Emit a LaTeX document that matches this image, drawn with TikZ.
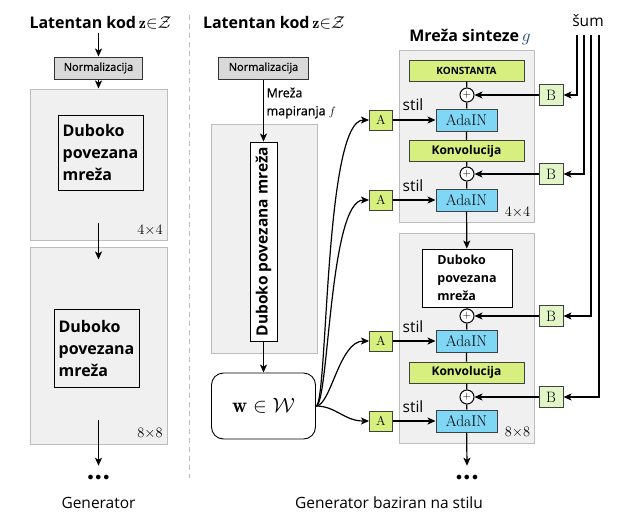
\documentclass[tikz,border=0pt]{standalone}
\usepackage{amsmath}
\usepackage{amssymb}
\usepackage{fontspec}
\newfontfamily\osans{Open Sans}
\newfontfamily\osansmid[FakeBold=0.8]{Open Sans}
\usetikzlibrary{arrows.meta}
\definecolor{panelfill}{HTML}{F0F0F0}
\definecolor{panelline}{HTML}{BDBDBD}
\definecolor{normfill}{HTML}{D9D9D9}
\definecolor{limefill}{HTML}{D6EF7F}
\definecolor{noisefill}{HTML}{E1F5C6}
\definecolor{adafill}{HTML}{7FD6F5}
\definecolor{gblue}{HTML}{1F3B73}
\tikzstyle{panel} = [rectangle, draw=panelline, fill=panelfill, line width=1pt, inner sep=0pt]
\tikzstyle{normbox} = [rectangle, draw=black!80, fill=normfill, line width=1pt, minimum width=88pt, minimum height=22pt, inner sep=0pt, font=\osansmid\fontsize{11}{13}\selectfont]
\tikzstyle{fcbox} = [rectangle, draw, line width=0.9pt, align=left, inner sep=0pt]
\tikzstyle{limebox} = [rectangle, draw=black!75, fill=limefill, line width=1pt, minimum width=115pt, minimum height=21pt, inner sep=0pt, font=\osans\bfseries\fontsize{12}{14}\selectfont]
\tikzstyle{adabox} = [rectangle, draw=black!75, fill=adafill, line width=1pt, minimum width=61pt, minimum height=22pt, inner sep=0pt, font=\fontsize{15.5}{17}\selectfont]
\tikzstyle{stylebox} = [rectangle, draw=black!75, fill=limefill, line width=1pt, minimum width=23pt, minimum height=20pt, inner sep=0pt, font=\fontsize{13}{15}\selectfont]
\tikzstyle{noisebox} = [rectangle, draw=black!75, fill=noisefill, line width=1pt, minimum width=24pt, minimum height=21pt, inner sep=0pt, font=\fontsize{15}{17}\selectfont]
\tikzstyle{addnode} = [circle, draw, fill=white, line width=1pt, minimum size=14pt, inner sep=0pt, font=\fontsize{11}{13}\selectfont]
\tikzstyle{wbox} = [rectangle, draw, rounded corners=12pt, line width=0.9pt, minimum width=104pt, minimum height=66pt, font=\fontsize{21}{24}\selectfont]
\tikzstyle{titletext} = [font=\osans\bfseries\fontsize{16}{19}\selectfont]
\tikzstyle{plaintext} = [font=\osans\fontsize{15.5}{18}\selectfont]
\tikzstyle{restext} = [font=\fontsize{15}{17}\selectfont]
\tikzstyle{dotsnode} = [font=\fontsize{13}{15}\selectfont, inner sep=0pt]

\begin{document}
\begin{tikzpicture}[>={Stealth[length=8pt,width=7pt,inset=2pt]}, line width=1.2pt]
  \useasboundingbox (0pt,0pt) rectangle (618pt,-517pt);
  % traditional generator
  \draw (98.5pt, -164.5pt)node[panel, minimum width=137pt, minimum height=151pt](gen1){};
  \draw (98.5pt, -345.5pt)node[panel, minimum width=137pt, minimum height=197pt](gen2){};
  \draw (100.5pt, -23pt)node[titletext](lat1){Latentan kod$\,\mathbf{z}{\in}\mathcal{Z}$};
  \draw (98.5pt, -68pt)node[normbox](norm1){Normalizacija};
  \draw (100.5pt, -152.5pt)node[fcbox, minimum width=85pt, minimum height=75pt, font=\osans\bfseries\fontsize{16}{22}\selectfont](fc1){Duboko\\povezana\\mreža};
  \draw (96.5pt, -348pt)node[fcbox, minimum width=85pt, minimum height=78pt, font=\osans\bfseries\fontsize{16}{22}\selectfont](fc2){Duboko\\povezana\\mreža};
  \draw (150pt, -230pt)node[restext](res1){$4{\times}4$};
  \draw (150pt, -433pt)node[restext](res2){$8{\times}8$};
  \draw (98.5pt, -478pt)node[dotsnode](dots1){$\bullet\,{\bullet}\,{\bullet}$};
  \draw (98.5pt, -503pt)node[plaintext](cap1){Generator};
  \draw[->] (norm1 |- lat1.south) -- (norm1);
  \path[->] (norm1) edge (gen1);
  \draw[->] ([yshift=18pt]gen1.south) -- ([yshift=-13pt]gen2.north);
  \draw[->] ([yshift=25pt]gen2.south) -- ([yshift=9pt]dots1.north);

  \draw[panelline, line width=1pt, dash pattern=on 5pt off 4pt] (189pt,-15pt) -- (189pt,-478pt);

  % mapping network
  \draw (264pt, -238.5pt)node[panel, minimum width=106pt, minimum height=229pt](map){};
  \draw (274pt, -23pt)node[titletext](lat2){Latentan kod$\,\mathbf{z}{\in}\mathcal{Z}$};
  \draw (263.5pt, -68pt)node[normbox, minimum width=90pt](norm2){Normalizacija};
  \draw (266pt, -103pt)node[anchor=west, align=left, inner sep=0pt, font=\osansmid\fontsize{12.5}{18}\selectfont](mapf){Mreža\\mapiranja $f$};
  \draw (263.5pt, -241.5pt)node[fcbox, fill=white, rotate=90, minimum width=199pt, minimum height=27pt, font=\osans\bfseries\fontsize{15.5}{18}\selectfont](fc3){Duboko povezana mreža};
  \draw (263.5pt, -406pt)node[wbox](w){$\mathbf{w}\in\mathcal{W}$};
  \path[->] (norm2) edge (fc3);
  \path[->] (fc3) edge (w);

  % style boxes
  \draw (381pt, -120pt)node[stylebox](a1){A};
  \draw (381pt, -200pt)node[stylebox](a2){A};
  \draw (381pt, -341pt)node[stylebox](a3){A};
  \draw (381pt, -421pt)node[stylebox](a4){A};
  \draw[->] (w.east) .. controls +(12pt,0pt) and +(-45pt,0pt) .. (a1.west);
  \draw[->] (w.east) .. controls +(13pt,0pt) and +(-40pt,0pt) .. (a2.west);
  \draw[->] (w.east) .. controls +(15pt,0pt) and +(-30pt,0pt) .. (a3.west);
  \draw[->] (w.east) .. controls +(20pt,0pt) and +(-25pt,0pt) .. (a4.west);

  % synthesis network
  \draw (466.5pt, -136pt)node[panel, minimum width=135pt, minimum height=172pt](syn1){};
  \draw (466.5pt, -338pt)node[panel, minimum width=135pt, minimum height=210pt](syn2){};
  \draw (470pt, -37pt)node[titletext](syn){Mreža sinteze$\,\color{gblue}g$};
  \draw (466.5pt, -70.5pt)node[limebox, font=\osans\bfseries\fontsize{10}{12}\selectfont](const){KONSTANTA};
  \draw (467pt, -95pt)node[addnode](add1){$+$};
  \draw (466.5pt, -120pt)node[adabox](ada1){AdaIN};
  \draw (466.5pt, -151pt)node[limebox](conv1){Konvolucija};
  \draw (467pt, -174pt)node[addnode](add2){$+$};
  \draw (466.5pt, -200pt)node[adabox](ada2){AdaIN};
  \draw (517.5pt, -212pt)node[restext](res3){$4{\times}4$};
  \draw (467pt, -278pt)node[fcbox, fill=white, minimum width=90pt, minimum height=58pt, font=\osans\bfseries\fontsize{12.5}{18}\selectfont](fc4){Duboko\\povezana\\mreža};
  \draw (467pt, -316pt)node[addnode](add3){$+$};
  \draw (466.5pt, -341pt)node[adabox](ada3){AdaIN};
  \draw (466.5pt, -372.5pt)node[limebox](conv2){Konvolucija};
  \draw (467pt, -397pt)node[addnode](add4){$+$};
  \draw (466.5pt, -421pt)node[adabox](ada4){AdaIN};
  \draw (517.5pt, -432pt)node[restext](res4){$8{\times}8$};
  \draw (467pt, -478pt)node[dotsnode](dots2){$\bullet\,{\bullet}\,{\bullet}$};
  \draw (389pt, -503pt)node[plaintext](cap2){Generator baziran na stilu};
  \draw (413pt, -105pt)node[plaintext, inner sep=0pt](stil1){stil};
  \draw (413pt, -186pt)node[plaintext, inner sep=0pt](stil2){stil};
  \draw (413pt, -327pt)node[plaintext, inner sep=0pt](stil3){stil};
  \draw (413pt, -407pt)node[plaintext, inner sep=0pt](stil4){stil};
  \draw (const) -- (add1) -- (ada1) -- (conv1) -- (add2) -- (ada2);
  \path[->] (ada2) edge (fc4);
  \draw (fc4) -- (add3) -- (ada3) -- (conv2) -- (add4) -- (ada4);
  \draw[->] (ada4) -- ([yshift=9pt]dots2.north);
  \path[->] (a1) edge (ada1);
  \path[->] (a2) edge (ada2);
  \path[->] (a3) edge (ada3);
  \path[->] (a4) edge (ada4);

  % noise inputs
  \draw (551pt, -95pt)node[noisebox](b1){B};
  \draw (551pt, -174pt)node[noisebox](b2){B};
  \draw (551pt, -316pt)node[noisebox](b3){B};
  \draw (551pt, -397pt)node[noisebox](b4){B};
  \draw (588pt, -21pt)node[plaintext](sum){šum};
  \coordinate (n1) at (577pt, -35pt);
  \coordinate (n2) at (584pt, -35pt);
  \coordinate (n3) at (591pt, -35pt);
  \coordinate (n4) at (599pt, -35pt);
  \draw[->] (n1) |- (b1.east);
  \draw[->] (n2) |- (b2.east);
  \draw[->] (n3) |- (b3.east);
  \draw[->] (n4) |- (b4.east);
  \path[->] (b1) edge (add1);
  \path[->] (b2) edge (add2);
  \path[->] (b3) edge (add3);
  \path[->] (b4) edge (add4);
\end{tikzpicture}
\end{document}
